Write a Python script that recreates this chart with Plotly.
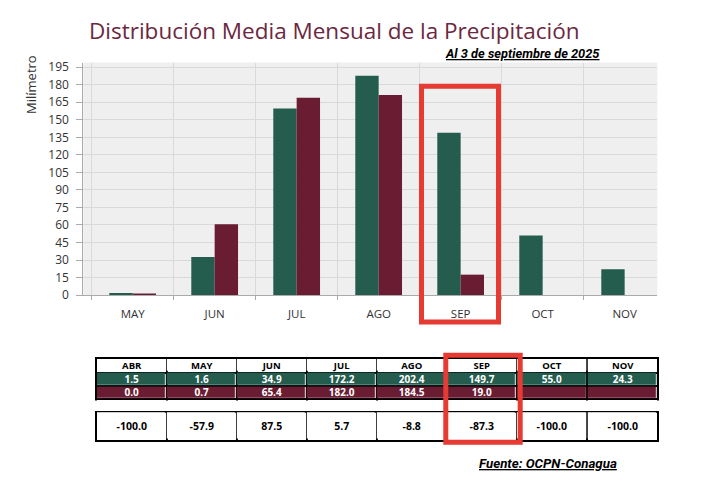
import plotly.graph_objects as go

# ---- data ----
months = ["MAY", "JUN", "JUL", "AGO", "SEP", "OCT", "NOV"]
green_vals = [1.8, 32.6, 159.6, 187.6, 138.9, 51.0, 22.2]
maroon_vals = [0.5, 60.7, 168.8, 171.3, 17.5, None, None]
y_ticks = list(range(0, 196, 15))

table_months = ["ABR", "MAY", "JUN", "JUL", "AGO", "SEP", "OCT", "NOV"]
row_green = ["1.5", "1.6", "34.9", "172.2", "202.4", "149.7", "55.0", "24.3"]
row_maroon = ["0.0", "0.7", "65.4", "182.0", "184.5", "19.0", "", ""]
row_diff = ["-100.0", "-57.9", "87.5", "5.7", "-8.8", "-87.3", "-100.0", "-100.0"]

# ---- styling / layout constants ----
GREEN = "#245c4e"
MAROON = "#6a1c33"
TITLE_C = "#6b2841"
RED = "#e53b32"
W, H = 705, 497
FONT = "Open Sans"
# table row edges (pixels from table top): header, green, maroon, gap, diff
EDGES = [0, 14.4, 28.4, 41.7, 55, 83.4]
TABLE_TOP = 363.3


def px(x):
    return x / W


def py(y):
    return 1 - y / H


n = len(table_months)
fig = go.Figure()
fig.add_trace(go.Bar(x=months, y=green_vals, marker_color=GREEN, marker_line_width=0,
                     hoverinfo="skip"))
fig.add_trace(go.Bar(x=months, y=maroon_vals, marker_color=MAROON, marker_line_width=0,
                     hoverinfo="skip"))

common = dict(x=table_months, xaxis="x2", yaxis="y2", showscale=False, xgap=1.6, ygap=1.6,
              hoverinfo="skip", texttemplate="<b>%{text}</b>")
# header row
fig.add_trace(go.Heatmap(z=[[0] * n], y=EDGES[0:2], text=[table_months],
                         colorscale=[[0, "white"], [1, "white"]],
                         textfont=dict(color="black", size=9.5, family=FONT), **common))
# value rows
fig.add_trace(go.Heatmap(z=[[1] * n, [2] * n], y=EDGES[1:4], text=[row_green, row_maroon],
                         colorscale=[[0, GREEN], [1, MAROON]], zmin=1, zmax=2,
                         textfont=dict(color="white", size=10, family=FONT), **common))
# difference row
fig.add_trace(go.Heatmap(z=[[0] * n], y=EDGES[4:6], text=[row_diff],
                         colorscale=[[0, "white"], [1, "white"]],
                         textfont=dict(color="black", size=10.5, family=FONT), **common))

fig.update_layout(
    width=W, height=H, margin=dict(l=0, r=0, t=0, b=0),
    paper_bgcolor="white", plot_bgcolor="white",
    showlegend=False, barmode="group", bargap=0.43, bargroupgap=0,
    font=dict(family=FONT, color="#333"),
    xaxis=dict(domain=[px(83.3), px(657.3)], type="category", categoryorder="array",
               categoryarray=months, range=[-0.602, 6.398], tickson="boundaries",
               ticks="outside", ticklen=4, tickcolor="#aaa", showgrid=True,
               gridcolor="#d9d9d9", showline=True, linecolor="#aaa",
               tickfont=dict(size=11.5, color="#333"), ticklabelstandoff=8,
               fixedrange=True, anchor="y"),
    yaxis=dict(domain=[py(298.3), py(60)], range=[0, 199], tickvals=y_ticks,
               ticks="outside", ticklen=6, tickcolor="#aaa", showline=True,
               linecolor="#aaa", gridcolor="#d9d9d9", zeroline=False,
               tickfont=dict(size=12, color="#333"), ticklabelstandoff=5,
               fixedrange=True, anchor="x"),
    xaxis2=dict(domain=[px(96.7), px(657.3)], type="category", categoryorder="array",
                categoryarray=table_months, range=[-0.5, n - 0.5], tickson="boundaries",
                showticklabels=False, ticks="", showgrid=True, gridcolor="black",
                gridwidth=1.6, showline=True, mirror=True, linecolor="black",
                linewidth=2, zeroline=False, fixedrange=True, anchor="y2"),
    yaxis2=dict(domain=[py(TABLE_TOP + EDGES[-1]), py(TABLE_TOP)], range=[EDGES[-1], 0],
                tickvals=EDGES, showticklabels=False, ticks="", showgrid=True,
                gridcolor="black", gridwidth=1.6, showline=True, mirror=True,
                linecolor="black", linewidth=2, zeroline=False, fixedrange=True,
                anchor="x2"),
    annotations=[
        dict(text="Distribución Media Mensual de la Precipitación", x=px(87), y=py(27.5),
             xref="paper", yref="paper", xanchor="left", yanchor="middle", showarrow=False,
             font=dict(size=22.5, color=TITLE_C, family=FONT)),
        dict(text="<b><i><u>Al 3 de septiembre de 2025</u></i></b>", x=px(443), y=py(51),
             xref="paper", yref="paper", xanchor="left", yanchor="middle", showarrow=False,
             font=dict(size=12.8, color="black", family="Roboto")),
        dict(text="Milímetro", x=px(31), y=py(83), xref="paper", yref="paper",
             xanchor="center", yanchor="middle", textangle=-90, showarrow=False,
             font=dict(size=13, color="#333", family=FONT)),
        dict(text="<b><i><u>Fuente: OCPN-Conagua</u></i></b>", x=px(477), y=py(471),
             xref="paper", yref="paper", xanchor="left", yanchor="middle", showarrow=False,
             font=dict(size=13.3, color="black", family="Roboto")),
    ],
    shapes=[
        # plot background of bar chart
        dict(type="rect", xref="x domain", yref="y domain", x0=0, x1=1, y0=0, y1=1,
             fillcolor="#efefef", line=dict(width=0), layer="below"),
        # white gap between value rows and difference row
        dict(type="rect", xref="paper", yref="y2", x0=px(90), x1=px(665),
             y0=EDGES[3] + 1.3, y1=EDGES[4] - 1.3, fillcolor="white",
             line=dict(width=0), layer="above"),
        # red highlight boxes
        dict(type="rect", xref="paper", yref="paper", x0=px(421.5), x1=px(498.5),
             y0=py(84.2), y1=py(325.8), line=dict(color=RED, width=5), layer="above"),
        dict(type="rect", xref="paper", yref="paper", x0=px(445.8), x1=px(520.2),
             y0=py(360), y1=py(449.2), line=dict(color=RED, width=5), layer="above"),
    ],
)

fig.write_html("out.html")
